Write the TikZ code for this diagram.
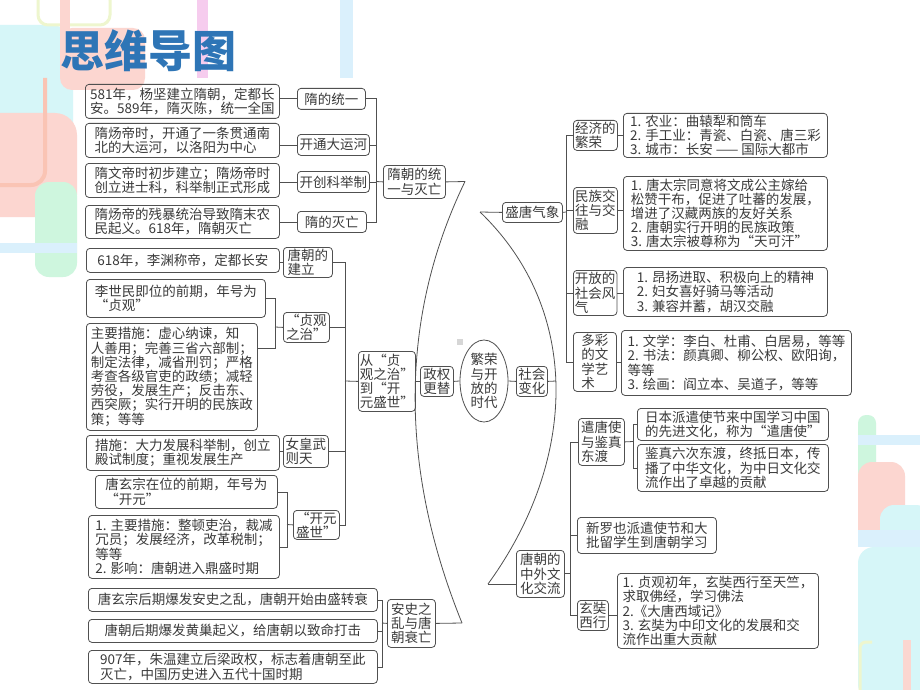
\documentclass[tikz,border=0pt]{standalone}
\usepackage{fontspec}
\setmainfont{Noto Sans CJK SC}
\usetikzlibrary{shapes.geometric}
\definecolor{linec}{RGB}{80,80,80}
\definecolor{txtc}{RGB}{58,58,58}
\definecolor{titlec}{RGB}{46,117,182}
\definecolor{cyanp}{RGB}{214,246,248}
\definecolor{pinkp}{RGB}{252,214,208}
\definecolor{greenp}{RGB}{206,246,222}
\definecolor{bluep}{RGB}{218,240,252}
\definecolor{salp}{RGB}{250,196,180}
\definecolor{magp}{RGB}{246,204,238}
\definecolor{yelp}{RGB}{238,246,206}
\definecolor{dotc}{RGB}{214,214,214}
\tikzset{
 leaf/.style={draw=linec, line width=0.8pt, rounded corners=3.5pt, anchor=north west, align=left, inner xsep=2.5pt, inner ysep=1pt, text=txtc, font=\fontsize{13.5}{14.2}\selectfont},
 lab/.style={leaf, inner xsep=1.5pt},
 conn/.style={draw=linec, line width=0.8pt},
}
\begin{document}
\begin{tikzpicture}[x=1pt,y=-1pt]
\useasboundingbox (0,0) rectangle (920,690);
\fill[white] (0,0) rectangle (920,690);
% ---- background decorations (top left)
\fill[cyanp, rounded corners=22pt] (-30,25) rectangle (73,155);
\fill[pinkp, rounded corners=22pt] (-30,113) rectangle (77,217);
\draw[salp, line width=4pt, rounded corners=14pt] (45,78) -- (45,185) -- (-5,185);
\fill[greenp, rounded corners=14pt] (35,182) rectangle (77,277);
\fill[bluep] (0,243) rectangle (77,253);
\draw[yelp, line width=3pt, rounded corners=10pt] (38,-10) rectangle (110,25);
\fill[pinkp] (60,0) rectangle (70,78);
\fill[pinkp, rounded corners=12pt] (60,28) rectangle (145,90);
\fill[magp] (197,0) rectangle (208,78);
\fill[bluep] (340,0) rectangle (353,78);
% ---- background decorations (bottom right)
\fill[greenp, rounded corners=8pt] (858,415) rectangle (876,480);
\fill[bluep] (858,435) rectangle (920,445);
\fill[pinkp, rounded corners=14pt] (858,462) rectangle (905,545);
\fill[cyanp, rounded corners=14pt] (880,505) rectangle (930,560);
\fill[bluep] (858,530) rectangle (920,547);
\fill[cyanp, rounded corners=16pt] (858,547) rectangle (930,700);
\fill[pinkp] (903,640) rectangle (911,690);
\draw[yelp, line width=3pt, rounded corners=6pt] (860,700) -- (860,642) -- (872,642);
% ---- title
\node[font=\fontsize{44}{44}\selectfont\bfseries, text=titlec, inner sep=0pt] (title) at (148,51) {思维导图};
% ---- Sui dynasty
\node[leaf, minimum width=194, minimum height=34] (a1) at (85,84) {581年，杨坚建立隋朝，定都长\\安。589年，隋灭陈，统一全国};
\node[leaf, minimum width=194, minimum height=34] (a2) at (85,123) {隋炀帝时，开通了一条贯通南\\北的大运河，以洛阳为中心};
\node[leaf, minimum width=194, minimum height=34] (a3) at (85,163) {隋文帝时初步建立；隋炀帝时\\创立进士科，科举制正式形成};
\node[leaf, minimum width=194, minimum height=33] (a4) at (85,205) {隋炀帝的残暴统治导致隋末农\\民起义。618年，隋朝灭亡};
\node[lab, minimum width=68, minimum height=21] (b1) at (297,88) {隋的统一};
\node[lab, minimum width=72, minimum height=21] (b2) at (297,134) {开通大运河};
\node[lab, minimum width=72, minimum height=21] (b3) at (297,171) {开创科举制};
\node[lab, minimum width=69, minimum height=21] (b4) at (297,211) {隋的灭亡};
\node[lab, minimum width=62, minimum height=33] (c1) at (383,165) {隋朝的统\\一与灭亡};
% ---- Tang establishment to Kaiyuan
\node[leaf, minimum width=193, minimum height=24] (s1) at (86,248) {618年，李渊称帝，定都长安};
\node[lab, minimum width=49, minimum height=30] (t1) at (283,247) {唐朝的\\建立};
\node[leaf, minimum width=179, minimum height=38] (s2) at (86,279) {李世民即位的前期，年号为\\“贞观”};
\node[leaf, minimum width=171, minimum height=107] (s3) at (86,323) {主要措施：虚心纳谏，知\\人善用；完善三省六部制；\\制定法律，减省刑罚；严格\\考查各级官吏的政绩；减轻\\劳役，发展生产；反击东、\\西突厥；实行开明的民族政\\策；等等};
\node[lab, minimum width=46, minimum height=30] (t2) at (283,312) {“贞观\\之治”};
\node[lab, minimum width=52, minimum height=60] (f) at (358,351) {从“贞\\观之治”\\到“开\\元盛世”};
\node[leaf, minimum width=193, minimum height=35] (s4) at (86,435) {措施：大力发展科举制，创立\\殿试制度；重视发展生产};
\node[lab, minimum width=45, minimum height=32] (t3) at (283,435) {女皇武\\则天};
\node[leaf, minimum width=182, minimum height=33] (u1) at (95,475) {唐玄宗在位的前期，年号为\\“开元”};
\node[leaf, minimum width=191, minimum height=63] (u2) at (88,515) {1. 主要措施：整顿吏治，裁减\\冗员；发展经济，改革税制；\\等等\\2. 影响：唐朝进入鼎盛时期};
\node[lab, minimum width=46, minimum height=29] (t4) at (293,510) {“开元\\盛世”};
% ---- decline
\node[leaf, minimum width=289, minimum height=23] (v1) at (88,588) {唐玄宗后期爆发安史之乱，唐朝开始由盛转衰};
\node[leaf, minimum width=289, minimum height=23] (v2) at (88,619) {唐朝后期爆发黄巢起义，给唐朝以致命打击};
\node[leaf, minimum width=289, minimum height=33] (v3) at (88,650) {907年，朱温建立后梁政权，标志着唐朝至此\\灭亡，中国历史进入五代十国时期};
\node[lab, minimum width=48, minimum height=48] (w) at (387,599) {安史之\\乱与唐\\朝衰亡};
% ---- centre
\node[lab, minimum width=33, minimum height=30] (e) at (420,366) {政权\\更替};
\node[draw=linec, line width=0.8pt, ellipse, minimum width=48, minimum height=82, inner sep=0pt, align=center, text=txtc, font=\fontsize{13.5}{14.2}\selectfont] (ell) at (484,381) {繁荣\\与开\\放的\\时代};
\node[lab, minimum width=31, minimum height=30] (g) at (516,366) {社会\\变化};
\fill[dotc] (457,339) rectangle (463,345);
% ---- right: Tang prosperity
\node[lab, minimum width=60, minimum height=20] (k) at (502,202) {盛唐气象};
\node[lab, minimum width=44, minimum height=30] (l1) at (573,120) {经济的\\繁荣};
\node[lab, minimum width=44, minimum height=46] (l2) at (573,187) {民族交\\往与交\\融};
\node[lab, minimum width=43, minimum height=45] (l3) at (573,270) {开放的\\社会风\\气};
\node[lab, minimum width=43, minimum height=59] (l4) at (573,332) {多彩\\的文\\学艺\\术};
\node[leaf, minimum width=204, minimum height=44] (m1) at (623,113) {1. 农业：曲辕犁和筒车\\2. 手工业：青瓷、白瓷、唐三彩\\3. 城市：长安 —— 国际大都市};
\node[leaf, minimum width=204, minimum height=74] (m2) at (623,176) {1. 唐太宗同意将文成公主嫁给\\松赞干布，促进了吐蕃的发展，\\增进了汉藏两族的友好关系\\2. 唐朝实行开明的民族政策\\3. 唐太宗被尊称为“天可汗”};
\node[leaf, minimum width=204, minimum height=49] (m3) at (623,267) {1. 昂扬进取、积极向上的精神\\2. 妇女喜好骑马等活动\\3. 兼容并蓄，胡汉交融};
\node[leaf, minimum width=230, minimum height=65] (m4) at (621,330) {1. 文学：李白、杜甫、白居易，等等\\2. 书法：颜真卿、柳公权、欧阳询，\\等等\\3. 绘画：阎立本、吴道子，等等};
% ---- right: foreign exchange
\node[lab, minimum width=48, minimum height=47] (h) at (516,550) {唐朝的\\中外文\\化交流};
\node[lab, minimum width=46, minimum height=47] (q0) at (578,418) {遣唐使\\与鉴真\\东渡};
\node[leaf, minimum width=191, minimum height=32] (q1) at (637,408) {日本派遣使节来中国学习中国\\的先进文化，称为“遣唐使”};
\node[leaf, minimum width=191, minimum height=47] (q2) at (637,444) {鉴真六次东渡，终抵日本，传\\播了中华文化，为中日文化交\\流作出了卓越的贡献};
\node[leaf, minimum width=139, minimum height=36] (n) at (577,517) {新罗也派遣使节和大\\批留学生到唐朝学习};
\node[lab, minimum width=31, minimum height=30] (p) at (577,600) {玄奘\\西行};
\node[leaf, minimum width=201, minimum height=75] (r) at (617,573) {1. 贞观初年，玄奘西行至天竺，\\求取佛经，学习佛法\\2.《大唐西域记》\\3. 玄奘为中印文化的发展和交\\流作出重大贡献};
% ---- junction coordinates
\coordinate (j1) at (376,181.5);
\coordinate (j2) at (345,381);
\coordinate (j3) at (275,327);
\coordinate (j4) at (287,524.5);
\coordinate (j5) at (382,623);
\coordinate (j6) at (566,212);
\coordinate (j7) at (570,573.5);
\coordinate (j8) at (633,441.5);
\coordinate (T1) at (465,181.5);
\coordinate (T2) at (462,623);
\coordinate (U1) at (480,212);
\coordinate (U2) at (488,584);
\coordinate (rc) at (556,381);
% ---- connectors: Sui
\foreach \i in {1,2,3,4} {\draw[conn] (a\i.east |- b\i.west) -- (b\i.west);}
\draw[conn] (b1.east) -- (b1.east -| j1) -- (b4.east -| j1) -- (b4.east);
\draw[conn] (b2.east) -- (b2.east -| j1);
\draw[conn] (b3.east) -- (b3.east -| j1);
\draw[conn] (j1) -- (c1.west);
% ---- left brace
\draw[conn] (c1.east) -- (T1);
\draw[conn] (T1) .. controls (398,320) and (400,470) .. (T2);
\draw[conn] (T2) -- (w.east);
% ---- Tang left branch
\draw[conn] (s1.east |- t1.west) -- (t1.west);
\draw[conn] (s2.east) -- (s2.east -| j3) -- (j3 |- s3.east |- 0,348) -- (257,348);
\draw[conn] (j3) -- (t2.west);
\draw[conn] (s4.east |- t3.west) -- (t3.west);
\draw[conn] (u1.east) -- (u1.east -| j4) -- (u2.east -| j4) -- (u2.east);
\draw[conn] (j4) -- (t4.west);
\draw[conn] (t1.east) -- (t1.east -| j2) -- (t4.east -| j2) -- (t4.east);
\draw[conn] (t2.east) -- (t2.east -| j2);
\draw[conn] (t3.east) -- (t3.east -| j2);
\draw[conn] (j2) -- (f.west);
\draw[conn] (f.east) -- (e.west);
\draw[conn] (e.east) -- (ell.west);
% ---- decline
\draw[conn] (v1.east) -- (v1.east -| j5) -- (v3.east -| j5) -- (v3.east);
\draw[conn] (v2.east) -- (v2.east -| j5);
\draw[conn] (j5) -- (w.west);
% ---- right brace
\draw[conn] (ell.east) -- (g.west);
\draw[conn] (g.east) -- (rc);
\draw[conn] (U1) -- (k.west);
\draw[conn] (U1) .. controls (582,310) and (578,460) .. (U2);
\draw[conn] (U2) -- (U2 -| h.west);
% ---- prosperity branch
\draw[conn] (k.east) -- (j6);
\draw[conn] (l1.west) -- (l1.west -| j6) -- (l4.west -| j6) -- (l4.west);
\draw[conn] (l2.west) -- (l2.west -| j6);
\draw[conn] (l3.west) -- (l3.west -| j6);
\foreach \i in {1,2,3,4} {\draw[conn] (l\i.east) -- (l\i.east -| m\i.west);}
% ---- exchange branch
\draw[conn] (h.east |- j7) -- (j7);
\draw[conn] (q0.west) -- (q0.west -| j7) -- (p.west -| j7) -- (p.west);
\draw[conn] (n.west) -- (n.west -| j7);
\draw[conn] (q0.east) -- (j8);
\draw[conn] (q1.west) -- (q1.west -| j8) -- (q2.west -| j8) -- (q2.west);
\draw[conn] (p.east) -- (p.east -| r.west);
\end{tikzpicture}
\end{document}
